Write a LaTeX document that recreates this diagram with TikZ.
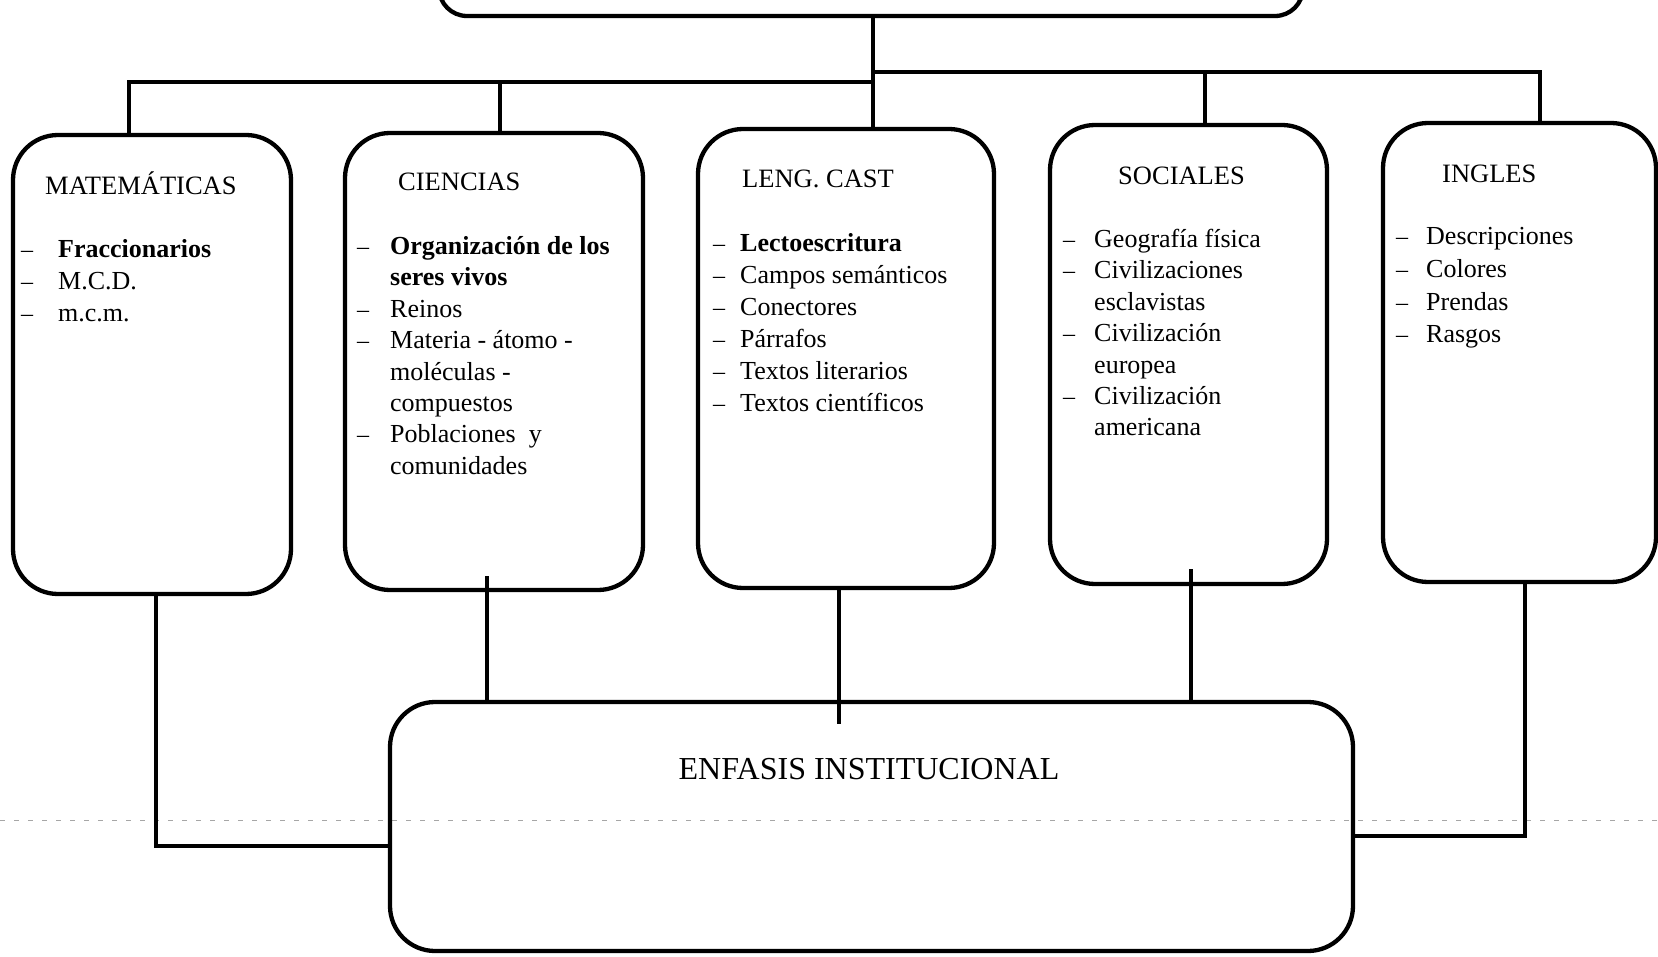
\documentclass[tikz,border=0pt]{standalone}
\usepackage{fontspec}
\setmainfont{Liberation Serif}
\usetikzlibrary{calc}
\tikzset{
  box/.style={draw, line width=4.3pt, rounded corners=45pt, inner sep=0pt},
  conn/.style={line width=4.3pt},
  head/.style={anchor=base west, inner sep=0pt, font=\fontsize{26.5}{32}\selectfont},
  item/.style={anchor=base west, inner sep=0pt, font=\fontsize{26}{32}\selectfont},
  itemb/.style={anchor=base west, inner sep=0pt, font=\fontsize{26}{32}\selectfont\bfseries},
  dsh/.style={anchor=base west, inner sep=0pt, font=\fontsize{24}{32}\selectfont},
}
\begin{document}
\begin{tikzpicture}[x=1pt,y=-1pt]
\useasboundingbox (0,0) rectangle (1658,957);
\clip (0,0) rectangle (1658,957);
\fill[white] (0,0) rectangle (1658,957);
% scan artifact line
\draw[black!35, line width=0.8pt, dash pattern=on 5pt off 9pt] (0,820) -- (1658,820);
% boxes
\node[box, rounded corners=28pt, minimum width=864pt, minimum height=100pt] (top) at (871,-34) {};
\node[box, minimum width=278pt, minimum height=459pt] (mat) at (152,364.5) {};
\node[box, minimum width=298pt, minimum height=457pt] (cien) at (494,361.5) {};
\node[box, minimum width=296pt, minimum height=459pt] (leng) at (846,358.5) {};
\node[box, minimum width=277pt, minimum height=459pt] (soc) at (1188.5,354.5) {};
\node[box, minimum width=273pt, minimum height=459pt] (ing) at (1519.5,352.5) {};
\node[box, minimum width=963pt, minimum height=249pt] (enf) at (871.5,826.5) {};
% junction coordinates
\coordinate (jl) at (873,82);
\coordinate (jr) at (873,72);
\coordinate (cin) at (487,576);
\coordinate (lin) at (839,724);
\coordinate (sin) at (1191,569);
% top connectors
\draw[conn] (top.south -| jl) -- (leng.north -| jl);
\draw[conn] (mat.north -| 129,0) |- (jl);
\draw[conn] (cien.north -| 500,0) -- (500,82);
\draw[conn] (soc.north -| 1205,0) |- (jr);
\draw[conn] (ing.north -| 1540,0) |- (jr);
% bottom connectors
\draw[conn] (mat.south -| 156,0) |- (enf.west |- 0,846);
\draw[conn] (cin) -- (enf.north -| cin);
\draw[conn] (leng.south -| lin) -- (lin);
\draw[conn] (sin) -- (enf.north -| sin);
\draw[conn] (ing.south -| 1525,0) |- (enf.east |- 0,836);
% enfasis
\node[anchor=base, inner sep=0pt, font=\fontsize{32}{36}\selectfont] (enft) at (869,779) {ENFASIS INSTITUCIONAL};
% MATEMATICAS
\node[head] (math) at (45,195) {MATEMÁTICAS};
\node[dsh] (md1) at (21,258) {--};
\node[dsh] (md2) at (21,290) {--};
\node[dsh] (md3) at (21,322) {--};
\node[itemb] (m1) at (58,258) {Fraccionarios};
\node[item] (m2) at (58,290) {M.C.D.};
\node[item] (m3) at (58,322) {m.c.m.};
% CIENCIAS
\node[head] (cienh) at (398,191) {CIENCIAS};
\node[dsh] (cd1) at (357,255) {--};
\node[dsh] (cd2) at (357,318) {--};
\node[dsh] (cd3) at (357,349) {--};
\node[dsh] (cd4) at (357,443) {--};
\node[itemb] (c1) at (390,255) {Organización de los};
\node[itemb] (c2) at (390,286) {seres vivos};
\node[item] (c3) at (390,318) {Reinos};
\node[item] (c4) at (390,349) {Materia - átomo -};
\node[item] (c5) at (390,381) {moléculas -};
\node[item] (c6) at (390,412) {compuestos};
\node[item] (c7) at (390,443) {Poblaciones\ \ y};
\node[item] (c8) at (390,475) {comunidades};
% LENG CAST
\node[head] (lengh) at (742,188) {LENG. CAST};
\node[dsh] (ld1) at (713,252) {--};
\node[dsh] (ld2) at (713,284) {--};
\node[dsh] (ld3) at (713,316) {--};
\node[dsh] (ld4) at (713,348) {--};
\node[dsh] (ld5) at (713,380) {--};
\node[dsh] (ld6) at (713,412) {--};
\node[itemb] (l1) at (740,252) {Lectoescritura};
\node[item] (l2) at (740,284) {Campos semánticos};
\node[item] (l3) at (740,316) {Conectores};
\node[item] (l4) at (740,348) {Párrafos};
\node[item] (l5) at (740,380) {Textos literarios};
\node[item] (l6) at (740,412) {Textos científicos};
% SOCIALES
\node[head] (soch) at (1118,185) {SOCIALES};
\node[dsh] (sd1) at (1063,248) {--};
\node[dsh] (sd2) at (1063,279) {--};
\node[dsh] (sd3) at (1063,342) {--};
\node[dsh] (sd4) at (1063,405) {--};
\node[item] (s1) at (1094,248) {Geografía física};
\node[item] (s2) at (1094,279) {Civilizaciones};
\node[item] (s3) at (1094,311) {esclavistas};
\node[item] (s4) at (1094,342) {Civilización};
\node[item] (s5) at (1094,374) {europea};
\node[item] (s6) at (1094,405) {Civilización};
\node[item] (s7) at (1094,436) {americana};
% INGLES
\node[head] (ingh) at (1442,183) {INGLES};
\node[dsh] (id1) at (1396,245) {--};
\node[dsh] (id2) at (1396,278) {--};
\node[dsh] (id3) at (1396,311) {--};
\node[dsh] (id4) at (1396,343) {--};
\node[item] (i1) at (1426,245) {Descripciones};
\node[item] (i2) at (1426,278) {Colores};
\node[item] (i3) at (1426,311) {Prendas};
\node[item] (i4) at (1426,343) {Rasgos};
\end{tikzpicture}
\end{document}
